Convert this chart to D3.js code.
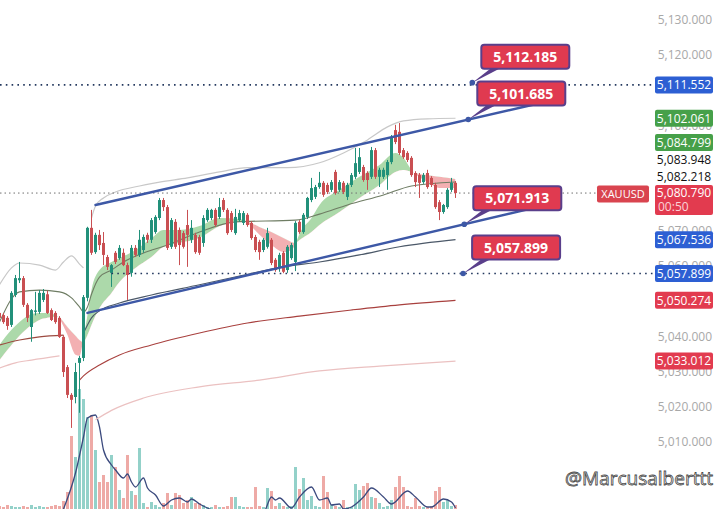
<!DOCTYPE html>
<html><head><meta charset="utf-8">
<script src="https://cdn.jsdelivr.net/npm/d3@7"></script>
<style>body{margin:0;background:#fff}svg{display:block}</style>
</head><body>
<svg id="c" width="718" height="509"></svg>
<script>
// ---------- DATA ----------
// OHLC per bar (open, high, low, close)
const ohlc = [
[5046.7,5047.3,5044.4,5045.3],[5046.1,5046.7,5043.6,5044.1],[5045.3,5045.8,5041.9,5043.0],[5043.3,5052.9,5042.7,5052.4],[5051.8,5057.5,5051.2,5056.6],
[5056.0,5061.2,5055.2,5056.6],[5056.6,5057.2,5048.4,5049.0],[5049.0,5049.5,5044.1,5045.3],[5042.7,5047.8,5038.5,5047.5],[5047.0,5052.7,5046.0,5047.4],
[5047.0,5053.2,5046.4,5052.4],[5050.4,5053.5,5049.8,5052.4],[5052.0,5053.0,5046.4,5046.7],[5047.5,5048.0,5044.4,5044.7],[5046.7,5047.2,5043.6,5044.1],
[5045.3,5045.8,5039.6,5039.9],[5039.9,5040.4,5028.5,5029.9],[5031.3,5031.9,5022.5,5023.4],[5023.4,5023.9,5014.0,5022.0],[5022.8,5032.5,5021.0,5029.9],
[5032.5,5034.5,5018.3,5033.9],[5033.9,5051.8,5033.0,5051.2],[5051.0,5071.2,5050.0,5070.9],[5070.9,5076.0,5063.2,5063.8],[5064.0,5069.5,5063.5,5068.9],
[5068.9,5070.3,5064.6,5066.0],[5066.6,5069.7,5060.3,5063.2],[5062.6,5063.2,5058.9,5059.8],[5058.1,5060.6,5054.1,5060.3],[5063.8,5064.3,5060.6,5061.2],
[5062.3,5066.0,5061.8,5065.2],[5063.8,5065.0,5060.0,5060.3],[5060.3,5061.0,5050.4,5057.5],[5058.1,5066.0,5057.0,5065.2],[5065.2,5066.0,5062.6,5063.2],
[5063.2,5070.3,5062.6,5067.5],[5064.6,5069.0,5063.8,5068.3],[5068.9,5069.5,5066.6,5067.5],[5067.5,5073.7,5066.6,5073.1],[5069.7,5074.5,5069.2,5074.0],
[5073.7,5079.4,5073.1,5078.8],[5078.8,5079.4,5075.7,5076.8],[5076.8,5077.4,5064.6,5065.2],[5065.5,5073.7,5064.9,5073.1],[5072.6,5073.4,5064.9,5065.5],
[5070.3,5071.0,5060.3,5066.0],[5069.4,5070.0,5065.0,5065.5],[5071.7,5076.0,5059.8,5068.9],[5067.5,5073.1,5066.6,5070.9],[5068.9,5069.5,5063.5,5064.0],
[5068.3,5068.9,5063.2,5063.8],[5066.6,5074.5,5065.5,5073.7],[5073.1,5076.5,5072.6,5076.0],[5073.7,5076.3,5073.1,5076.0],[5076.0,5076.5,5071.2,5071.7],
[5074.0,5079.4,5073.4,5076.8],[5078.8,5079.4,5075.4,5076.0],[5076.0,5076.5,5068.9,5069.4],[5075.1,5075.7,5069.7,5070.3],[5069.4,5076.3,5068.9,5074.0],
[5073.1,5076.0,5072.6,5075.1],[5072.3,5075.7,5071.7,5075.1],[5074.6,5075.1,5071.2,5071.7],[5072.3,5072.8,5067.5,5068.0],[5068.3,5068.9,5064.0,5064.6],
[5066.9,5067.5,5061.8,5064.0],[5064.6,5068.0,5064.0,5067.5],[5065.5,5070.9,5065.0,5069.4],[5067.5,5068.0,5060.3,5060.9],[5061.8,5062.3,5058.4,5058.9],
[5059.5,5063.8,5058.4,5063.2],[5063.8,5064.3,5058.0,5058.4],[5058.9,5066.0,5058.1,5065.5],[5062.3,5066.6,5061.8,5066.0],[5061.2,5072.8,5058.6,5072.3],
[5072.6,5073.1,5069.2,5069.7],[5069.7,5075.1,5069.2,5074.6],[5074.0,5079.7,5073.4,5079.4],[5078.8,5085.1,5078.2,5082.2],[5079.7,5083.1,5079.1,5082.5],
[5082.5,5086.8,5082.0,5083.7],[5083.7,5084.2,5079.7,5080.3],[5083.1,5083.7,5080.5,5081.1],[5081.7,5084.5,5081.1,5083.9],[5086.8,5087.4,5080.3,5080.8],
[5081.7,5084.5,5081.1,5083.9],[5083.7,5084.2,5080.5,5081.1],[5079.7,5083.7,5078.8,5083.1],[5083.1,5086.5,5082.5,5085.9],[5085.4,5093.6,5084.8,5089.3],
[5086.8,5093.6,5086.2,5091.0],[5088.2,5088.8,5084.0,5084.5],[5086.5,5087.0,5081.7,5084.5],[5085.4,5093.9,5084.8,5093.0],[5093.0,5093.6,5084.8,5085.4],
[5085.4,5088.0,5082.5,5087.4],[5085.4,5088.0,5084.8,5087.4],[5085.9,5090.2,5081.7,5089.6],[5089.6,5097.3,5089.0,5096.7],[5098.7,5100.2,5094.7,5095.3],
[5098.2,5100.7,5091.6,5092.2],[5093.0,5093.6,5090.5,5091.0],[5092.2,5092.7,5089.6,5090.2],[5090.8,5091.3,5085.4,5085.9],[5086.5,5087.0,5082.5,5083.9],
[5085.9,5086.5,5079.4,5083.7],[5083.9,5086.5,5083.4,5085.9],[5086.5,5087.4,5082.0,5082.5],[5085.1,5085.6,5082.5,5083.1],[5083.1,5083.7,5076.3,5076.8],
[5078.2,5078.8,5073.1,5075.4],[5075.4,5077.7,5074.9,5077.4],[5076.8,5082.2,5076.3,5081.7],[5081.7,5085.1,5081.1,5083.7],[5083.7,5084.2,5079.4,5080.79]
];
const volumes = [
3,2,4,3,2,2,3,2,4,2,3,2,2,3,4,
3,8,17,73,52,120,110,92,94,59,27,34,27,54,42,
19,11,54,18,14,61,6,2,7,4,2,6,16,4,16,
14,6,9,12,6,6,4,2,2,4,2,2,3,12,12,
3,2,2,2,22,3,2,21,18,3,6,3,2,3,42,
20,31,9,13,3,2,33,17,4,3,2,9,2,2,25,
19,23,26,12,11,6,2,3,9,22,33,22,3,2,11,
3,2,2,3,18,22,7,9,3,4
];
const volumeMA = [[16,0],[19,36],[21,72],[22,91],[24,94],[25,82],[26,59],[28,44],[29,39],[31,31],[32,35],[33,27],[34,22],[36,31],[37,21],[39,14],[41,3],[43,9],[45,11],[47,7],[48,10],[50,5],[52,1],[55,-3],[66,-3],[68,12],[69,9],[70,11],[73,1],[75,12],[78,22],[80,9],[82,11],[83,4],[85,5],[86,0],[88,2],[91,12],[93,21],[96,12],[98,5],[102,18],[104,12],[107,2],[108,2],[111,10],[113,7],[114,1]];

// EMA ribbon (fast / slow)
const ribbonIdx  = [0,3,5,8,10,12,14,15,17,19,20,21,22,23,25,28,30,34,38,41,45,50,55,60,62,65,68,71,73,74,75,78,80,85,90,95,99,101,103,104,107,110,114];
const ribbonFast = [5037.6,5041.9,5044.1,5046.4,5046.7,5046.7,5046.1,5045.0,5040.4,5034.8,5034.5,5039.6,5046.1,5053.2,5058.9,5061.2,5062.3,5064.6,5068.0,5070.3,5070.3,5071.4,5073.7,5073.4,5072.3,5068.9,5066.0,5064.0,5064.6,5066.3,5069.2,5073.7,5077.4,5081.7,5085.4,5088.8,5092.2,5090.8,5087.35,5086.2,5083.9,5082.2,5082.2];
const ribbonSlow = [5033.3,5037.6,5040.2,5043.3,5044.7,5045.3,5045.6,5045.3,5042.7,5040.2,5039.0,5038.4,5040.4,5043.3,5048.1,5052.4,5055.5,5059.5,5062.6,5065.5,5066.6,5068.0,5071.4,5072.85,5072.6,5071.15,5069.7,5068.0,5066.9,5066.6,5067.45,5069.7,5071.7,5075.4,5079.4,5083.1,5086.8,5087.35,5086.8,5086.5,5085.9,5085.4,5084.8];

// band / average lines: [bar index, price]
const upperBandA = [[0,5054.7],[3,5059.5],[5,5060.9],[10,5060.3],[14,5058.9],[16,5061.2],[18,5062.9],[20,5060.6],[21,5059.5]];
const upperBandB = [[23,5073.7],[24,5077.1],[26,5079.4],[29,5081.1],[35,5082.8],[40,5083.9],[47,5085.1],[55,5086.8],[62,5088.0],[72,5088.0],[80,5089.4],[86,5092.2],[92,5095.9],[97,5099.6],[101,5101.3],[107,5101.9],[114,5102.061]];
const midLine = [[0,5044.1],[5,5052.7],[10,5053.2],[15,5052.7],[18,5051.0],[20,5048.4],[21,5047.0],[22,5048.4],[23,5052.0],[25,5056.9],[28,5058.9],[31,5061.2],[36,5063.75],[42,5066.0],[50,5069.7],[59,5072.6],[74,5073.1],[80,5074.8],[87,5077.4],[96,5080.25],[103,5082.8],[114,5083.948]];
const lowerBand = [[21,5041.0],[22,5043.3],[23,5045.3],[25,5047.3],[30,5049.5],[38,5051.8],[50,5054.7],[60,5057.2],[71,5059.8],[80,5061.2],[90,5063.2],[100,5065.5],[114,5067.536]];
const vwapA = [[0,5037.6],[5,5039.0],[10,5039.9],[16,5040.4]];
const vwapB = [[20,5027.6],[21,5028.8],[25,5031.9],[30,5034.75],[38,5037.6],[50,5041.0],[62,5043.85],[75,5045.8],[88,5047.55],[100,5049.0],[114,5050.274]];
const pinkA = [[0,5031.06],[4,5032.5],[8,5033.3],[15,5034.5]];
const pinkB = [[24,5016.3],[28,5019.0],[36,5022.5],[50,5025.7],[65,5027.6],[80,5030.2],[95,5031.6],[114,5033.012]];

// channel: start point and anchor point
const channelUpper = [[24,5077.4],[117.2,5101.685]];
const channelLower = [[22,5046.7],[116.2,5071.913]];
const channelEndIdx = 135;

// callouts
const calloutIdx = [118.2,117.2,116.2,115.9];
const calloutPrices = [5112.185,5101.685,5071.913,5057.899];

// horizontal levels: [price, start index]
const levels = [[5111.552,-5],[5057.899,28]];
const lastPrice = 5080.790;
const countdown = "00:50";
const symbol = "XAUUSD";

const priceTicks = [5130,5120,5110,5100,5090,5080,5070,5060,5050,5040,5030,5020,5010];
const axisTags = [
  {price:5111.552, kind:"level"},
  {price:5102.061, kind:"ema"},
  {price:5084.799, kind:"ema"},
  {price:5083.948, kind:"plain"},
  {price:5082.218, kind:"plain"},
  {price:5067.536, kind:"level"},
  {price:5057.899, kind:"level"},
  {price:5050.274, kind:"ma"},
  {price:5033.012, kind:"ma"}
];
const watermark = "@Marcusalberttt";

// ---------- DRAW ----------
const W = 718, H = 509;
const FONT = "'Open Sans', 'Noto Sans', sans-serif";
const svg = d3.select("#c");
const x = d3.scaleLinear().domain([0,114]).range([-0.5,455.5]);
const y = d3.scaleLinear().domain([5010,5130]).range([442,20]);
const vy = d3.scaleLinear().domain([0,130]).range([509,379]);
const fmt = d3.format(",.3f");
const UP = "#22907a", DN = "#c94f52";
const kindColor = {level:"#2d5fd3", ema:"#46a049", ma:"#e23b4f"};

const defs = svg.append("defs");
defs.append("clipPath").attr("id","plot").append("rect").attr("x",0).attr("y",0).attr("width",655).attr("height",H);

const g = svg.append("g").attr("clip-path","url(#plot)");

// volume
g.append("g").selectAll("rect").data(volumes).join("rect")
  .attr("x",(d,i)=>x(i)-1.5).attr("width",3)
  .attr("y",d=>vy(d)).attr("height",d=>vy(0)-vy(d))
  .attr("fill",(d,i)=>ohlc[i][3]>=ohlc[i][0] ? "#93d1c9" : "#eeaaa6")
  .attr("shape-rendering","crispEdges");
g.append("path").datum(volumeMA)
  .attr("d",d3.line().x(d=>x(d[0])).y(d=>vy(d[1])).curve(d3.curveMonotoneX))
  .attr("fill","none").attr("stroke","#3b4a7e").attr("stroke-width",1.3);

// ribbon
const rib = ribbonIdx.map((d,k)=>[d,ribbonFast[k],ribbonSlow[k]]);
defs.append("clipPath").attr("id","above").append("path")
  .attr("d",d3.area().x(d=>x(d[0])).y0(0).y1(d=>y(d[2])).curve(d3.curveMonotoneX)(rib));
defs.append("clipPath").attr("id","below").append("path")
  .attr("d",d3.area().x(d=>x(d[0])).y0(d=>y(d[2])).y1(H).curve(d3.curveMonotoneX)(rib));
const ribArea = d3.area().x(d=>x(d[0])).y0(d=>y(d[2])).y1(d=>y(d[1])).curve(d3.curveMonotoneX);
g.append("g").attr("clip-path","url(#above)").append("path").attr("d",ribArea(rib)).attr("fill","#acd9aa");
g.append("g").attr("clip-path","url(#below)").append("path").attr("d",ribArea(rib)).attr("fill","#f3b0b2");

// lines
const lineGen = d3.line().x(d=>x(d[0])).y(d=>y(d[1])).curve(d3.curveMonotoneX);
function drawLine(pts,color,w){
  g.append("path").datum(pts).attr("d",lineGen).attr("fill","none").attr("stroke",color).attr("stroke-width",w);
}
drawLine(pinkA,"#ebc1c1",1.2); drawLine(pinkB,"#ebc1c1",1.2);
drawLine(vwapA,"#9c4a40",1.1); drawLine(vwapB,"#a8403e",1.1);
drawLine(lowerBand,"#4b5868",1.1);
drawLine(upperBandA,"#c8c8c8",1.2); drawLine(upperBandB,"#c8c8c8",1.2);
drawLine(midLine,"#6f7d64",1.1);

// current price dotted
g.append("line").attr("x1",0).attr("x2",598).attr("y1",y(lastPrice)).attr("y2",y(lastPrice))
  .attr("stroke","#707070").attr("stroke-width",1).attr("stroke-dasharray","1.5,3");

// candles
const cg = g.append("g");
cg.selectAll("line").data(ohlc).join("line")
  .attr("x1",(d,i)=>x(i)).attr("x2",(d,i)=>x(i))
  .attr("y1",d=>y(d[1])).attr("y2",d=>y(d[2]))
  .attr("stroke",d=>d[3]>=d[0]?UP:DN).attr("stroke-width",1);
cg.selectAll("rect").data(ohlc).join("rect")
  .attr("x",(d,i)=>x(i)-1.5).attr("width",3)
  .attr("y",d=>y(Math.max(d[0],d[3])))
  .attr("height",d=>Math.max(1,Math.abs(y(d[0])-y(d[3]))))
  .attr("fill",d=>d[3]>=d[0]?UP:DN);

// horizontal levels
levels.forEach(([p,s])=>{
  g.append("line").attr("x1",Math.max(0,x(s))).attr("x2",655).attr("y1",y(p)).attr("y2",y(p))
   .attr("stroke","#24395f").attr("stroke-width",1.6).attr("stroke-dasharray","1.6,4.2");
});

// channel
function ray(seg){
  const [a,b]=seg; const slope=(b[1]-a[1])/(b[0]-a[0]);
  return [a,[channelEndIdx, a[1]+slope*(channelEndIdx-a[0])]];
}
[channelUpper,channelLower].forEach(seg=>{
  g.append("path").datum(ray(seg)).attr("d",d3.line().x(d=>x(d[0])).y(d=>y(d[1])))
   .attr("stroke","#3d58a6").attr("stroke-width",2.4).attr("fill","none").attr("stroke-linecap","round");
});

// callouts
calloutPrices.forEach((p,k)=>{
  const ax=x(calloutIdx[k]), ay=y(p);
  const bx=ax+9, bb=ay-14, bw=88, bh=24;
  g.append("polygon").attr("points",`${ax},${ay} ${bx+9},${bb} ${bx+18},${bb}`).attr("fill","#5a3f8b");
  g.append("circle").attr("cx",ax).attr("cy",ay).attr("r",2.8).attr("fill","#3d58a6");
  g.append("rect").attr("x",bx).attr("y",bb-bh).attr("width",bw).attr("height",bh).attr("rx",3)
   .attr("fill","#e03a50").attr("stroke","#5a3f8b").attr("stroke-width",2);
  g.append("text").attr("x",bx+bw/2).attr("y",bb-bh/2).attr("dy","0.36em").attr("text-anchor","middle")
   .attr("fill","#fff").style("font",`bold 14px ${FONT}`).text(fmt(p));
});

// axis tags with collision layout around the last price tag
const lpY = y(lastPrice), lpTop = lpY-8, lpBot = lpY+22;
const above = axisTags.filter(t=>t.price>lastPrice).sort((a,b)=>a.price-b.price);
const below = axisTags.filter(t=>t.price<lastPrice).sort((a,b)=>b.price-a.price);
let lim = lpTop;
above.forEach(t=>{ t.cy = Math.min(y(t.price), lim-8.5); lim = t.cy-8.5; });
lim = lpBot;
below.forEach(t=>{ t.cy = Math.max(y(t.price), lim+8.5); lim = t.cy+8.5; });

// axis ticks (ticks fully covered by a tag are not shown, as on the reference)
const covered = v => axisTags.some(t=>Math.abs(y(v)-t.cy)<6) || (y(v)>lpTop-4 && y(v)<lpBot+2);
svg.append("g").selectAll("text").data(priceTicks.filter(v=>!covered(v))).join("text")
  .attr("x",712).attr("y",d=>y(d)).attr("dy","0.36em").attr("text-anchor","end")
  .attr("fill","#a8a8a8").style("font",`12px ${FONT}`).text(d=>fmt(d));

const tg = svg.append("g");
axisTags.forEach(t=>{
  const plain = t.kind==="plain";
  tg.append("rect").attr("x",655).attr("y",t.cy-8.5).attr("width",58).attr("height",17).attr("rx",2)
    .attr("fill",plain?"#fff":kindColor[t.kind]);
  tg.append("text").attr("x",684).attr("y",t.cy).attr("dy","0.36em").attr("text-anchor","middle")
    .attr("fill",plain?"#111":"#fff").style("font",`12px ${FONT}`).text(fmt(t.price));
});
// last price tag
tg.append("rect").attr("x",655).attr("y",lpTop).attr("width",58).attr("height",30).attr("rx",2).attr("fill","#e23b4f");
tg.append("text").attr("x",684).attr("y",lpY).attr("dy","0.36em").attr("text-anchor","middle")
  .attr("fill","#fff").style("font",`12px ${FONT}`).text(fmt(lastPrice));
tg.append("text").attr("x",658).attr("y",lpY+14).attr("dy","0.36em")
  .attr("fill","#fbd3d7").style("font",`12px ${FONT}`).text(countdown);
tg.append("rect").attr("x",597).attr("y",lpTop+0.5).attr("width",52).attr("height",17).attr("rx",2).attr("fill","#d9444f");
tg.append("text").attr("x",623).attr("y",lpTop+9).attr("dy","0.36em").attr("text-anchor","middle")
  .attr("fill","#fff").style("font",`11px ${FONT}`).text(symbol);

// watermark
svg.append("text").attr("x",713).attr("y",478).attr("dy","0.36em").attr("text-anchor","end")
  .attr("fill","#fafafa").attr("stroke","#4a4a4a").attr("stroke-width",0.8)
  .style("font",`19px ${FONT}`).text(watermark);
</script>
</body></html>
